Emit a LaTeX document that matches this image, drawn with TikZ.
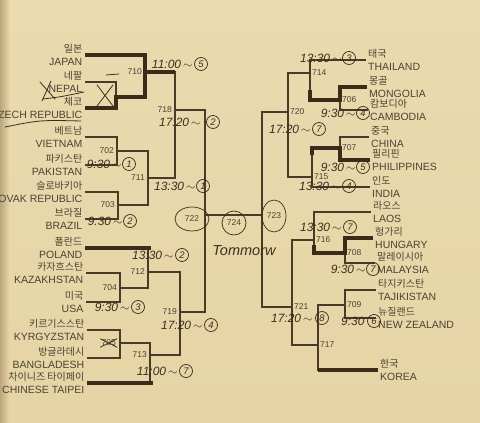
\documentclass[tikz,border=0pt]{standalone}
\usepackage{fontspec}
\setmainfont{Liberation Sans}
\newfontfamily\krfont{Noto Sans CJK KR}
\usepackage{tikz}
\usetikzlibrary{positioning, shapes.geometric}
\definecolor{paper}{HTML}{E6D4A5}
\definecolor{paperhi}{HTML}{EADAAE}
\definecolor{edge}{HTML}{BCA77C}
\definecolor{bink}{HTML}{4A3A28}
\definecolor{btext}{HTML}{4C4232}
\definecolor{pen}{HTML}{3B2F20}
\definecolor{mkcol}{HTML}{3A2B1A}
\newcommand{\hangul}[1]{{\krfont\fontsize{10}{13}\selectfont #1}}
\tikzstyle{teambox} = [text=btext, font=\fontsize{10.5}{13}\selectfont, inner sep=2.5pt]
\tikzstyle{teamL} = [teambox, anchor=east, align=right]
\tikzstyle{teamR} = [teambox, anchor=west, align=left]
\tikzstyle{bracket} = [draw=bink, line width=1.7pt, line join=miter]
\tikzstyle{markline} = [draw=mkcol, line width=4.5pt]
\tikzstyle{matchno} = [text=btext, font=\fontsize{8.5}{10}\selectfont, inner sep=1pt]
\tikzstyle{ring} = [draw=pen, line width=0.7pt]
\tikzstyle{hand} = [text=pen, font=\fontsize{12}{14}\selectfont\itshape, inner sep=0.5pt]
\tikzstyle{circno} = [circle, ring, text=pen, font=\fontsize{9.5}{10}\selectfont\itshape, inner sep=0pt, minimum size=13pt]
\tikzstyle{scribble} = [draw=pen, line width=0.8pt, line cap=round]
\begin{document}
\begin{tikzpicture}[x=1pt, y=-1pt]
    % paper
    \useasboundingbox (0,0) rectangle (480,423);
    \shade[top color=paperhi, bottom color=paper] (0,0) rectangle (480,423);
    \shade[left color=edge, right color=paper] (0,0) rectangle (9,423);

    % teams, left half
    \node[teamL] (jpn) at (85,55) {\hangul{일본}\\JAPAN};
    \node[teamL] (npl) at (85,82) {\hangul{네팔}\\NEPAL};
    \node[teamL] (cze) at (85,108) {\hangul{체코}\\CZECH REPUBLIC};
    \node[teamL] (vie) at (85,137) {\hangul{베트남}\\VIETNAM};
    \node[teamL] (pak) at (85,165) {\hangul{파키스탄}\\PAKISTAN};
    \node[teamL] (svk) at (85,192) {\hangul{슬로바키아}\\SLOVAK REPUBLIC};
    \node[teamL] (bra) at (85,219) {\hangul{브라질}\\BRAZIL};
    \node[teamL] (pol) at (85,248) {\hangul{폴란드}\\POLAND};
    \node[teamL] (kaz) at (86,273) {\hangul{카자흐스탄}\\KAZAKHSTAN};
    \node[teamL] (usa) at (86,302) {\hangul{미국}\\USA};
    \node[teamL] (kgz) at (87,330) {\hangul{키르기스스탄}\\KYRGYZSTAN};
    \node[teamL] (ban) at (87,358) {\hangul{방글라데시}\\BANGLADESH};
    \node[teamL] (tpe) at (87,383) {\hangul{차이니즈 타이페이}\\CHINESE TAIPEI};
    % teams, right half
    \node[teamR] (tha) at (365.5,60) {\hangul{태국}\\THAILAND};
    \node[teamR] (mgl) at (366.5,87) {\hangul{몽골}\\MONGOLIA};
    \node[teamR] (cam) at (367.5,110) {\hangul{캄보디아}\\CAMBODIA};
    \node[teamR] (chn) at (368.5,137) {\hangul{중국}\\CHINA};
    \node[teamR] (phi) at (369.5,160) {\hangul{필리핀}\\PHILIPPINES};
    \node[teamR] (ind) at (369.5,187) {\hangul{인도}\\INDIA};
    \node[teamR] (lao) at (370.5,212) {\hangul{라오스}\\LAOS};
    \node[teamR] (hun) at (372.5,238) {\hangul{헝가리}\\HUNGARY};
    \node[teamR] (mas) at (374.5,263) {\hangul{말레이시아}\\MALAYSIA};
    \node[teamR] (tjk) at (375.5,290) {\hangul{타지키스탄}\\TAJIKISTAN};
    \node[teamR] (nzl) at (375.5,318) {\hangul{뉴질랜드}\\NEW ZEALAND};
    \node[teamR] (kor) at (377.5,370) {\hangul{한국}\\KOREA};

    % match joints
    \coordinate (m701) at (116,97);
    \coordinate (m710) at (145,72);
    \coordinate (m702) at (117,151);
    \coordinate (m703) at (118,205);
    \coordinate (m711) at (148,178);
    \coordinate (m718) at (175,110);
    \coordinate (m704) at (120,288);
    \coordinate (m712) at (148,272);
    \coordinate (m705) at (120,343);
    \coordinate (m713) at (150,355);
    \coordinate (m719) at (180,312);
    \coordinate (m722) at (205,215);
    \coordinate (m723) at (262,215);
    \coordinate (m720) at (288,112);
    \coordinate (m714) at (310,73);
    \coordinate (m706) at (340,100);
    \coordinate (m707) at (340,148);
    \coordinate (m715) at (312,177);
    \coordinate (m721) at (292,307);
    \coordinate (m716) at (314,240);
    \coordinate (m708) at (345,253);
    \coordinate (m709) at (345,305);
    \coordinate (m717) at (318,345);

    % left bracket
    \draw[bracket] (npl.east) -| (m701) |- (cze.east);
    \draw[bracket] (jpn.east) -| (m710) |- (m701);
    \draw[bracket] (vie.east) -| (m702) |- (pak.east);
    \draw[bracket] (svk.east) -| (m703) |- (bra.east);
    \draw[bracket] (m702) -| (m711) |- (m703);
    \draw[bracket] (m710) -| (m718) |- (m711);
    \draw[bracket] (kaz.east) -| (m704) |- (usa.east);
    \draw[bracket] (pol.east) -| (m712) |- (m704);
    \draw[bracket] (kgz.east) -| (m705) |- (ban.east);
    \draw[bracket] (m705) -| (m713) |- (tpe.east);
    \draw[bracket] (m712) -| (m719) |- (m713);
    % final
    \draw[bracket] (m718) -| (m722) |- (m719);
    \draw[bracket] (m722) -- (m723);
    \draw[bracket] (m720) -| (m723) |- (m721);
    % right bracket
    \draw[bracket] (tha.west) -| (m714) |- (m706);
    \draw[bracket] (mgl.west) -| (m706) |- (cam.west);
    \draw[bracket] (chn.west) -| (m707) |- (phi.west);
    \draw[bracket] (m707) -| (m715) |- (ind.west);
    \draw[bracket] (m714) -| (m720) |- (m715);
    \draw[bracket] (lao.west) -| (m716) |- (m708);
    \draw[bracket] (hun.west) -| (m708) |- (mas.west);
    \draw[bracket] (tjk.west) -| (m709) |- (nzl.west);
    \draw[bracket] (m709) -| (m717) |- (kor.west);
    \draw[bracket] (m716) -| (m721) |- (m717);

    % marker strokes
    \draw[markline] (cze.east) -| (m701) -| (m710) |- (jpn.east);
    \draw[markline] (m710) -- (m710 -| m718);
    \draw[markline] (pol.east) -- ([xshift=3pt]pol.east -| m712);
    \draw[markline] (tpe.east) -- ([xshift=3pt]tpe.east -| m713);
    \draw[markline] (mgl.west) -| (m706) -- (m706 -| m714) -- ++(0,-10);
    \draw[markline] (phi.west) -| (m707) -- (m707 -| m715) -- ++(0,7);
    \draw[markline] (hun.west) -| (m708) -- (m708 -| m716) -- ++(0,-8);
    \draw[markline] (kor.west) -- (kor.west -| m717);

    % match numbers
    \node[matchno, left=2pt of m710] (n710) {710};
    \node[matchno, left=2pt of m702] (n702) {702};
    \node[matchno, left=2pt of m703] (n703) {703};
    \node[matchno, left=2pt of m711] (n711) {711};
    \node[matchno, left=2pt of m718] (n718) {718};
    \node[matchno, left=2pt of m704] (n704) {704};
    \node[matchno, left=2pt of m712] (n712) {712};
    \node[matchno, left=3pt of m705] (n705) {705};
    \node[matchno, left=2pt of m713] (n713) {713};
    \node[matchno, left=2pt of m719] (n719) {719};
    \node[matchno, right=1pt of m714] (n714) {714};
    \node[matchno, right=1pt of m706] (n706) {706};
    \node[matchno, right=1pt of m720] (n720) {720};
    \node[matchno, right=1pt of m707] (n707) {707};
    \node[matchno, right=1pt of m715] (n715) {715};
    \node[matchno, right=1pt of m716] (n716) {716};
    \node[matchno, right=1pt of m708] (n708) {708};
    \node[matchno, right=1pt of m721] (n721) {721};
    \node[matchno, right=1pt of m709] (n709) {709};
    \node[matchno, right=1pt of m717] (n717) {717};
    \node[matchno, ellipse, ring, minimum width=34pt, minimum height=24pt] (n722) at (192,219) {722};
    \node[matchno, ellipse, ring, minimum width=24pt, minimum height=32pt] (n723) at (274,216) {723};
    \node[matchno, circle, ring, minimum size=24pt] (n724) at (234,223) {724};

    % handwritten times
    \node[circno] (c710) at (201,64) {5};
    \node[hand, left=1pt of c710] (h710) {11:00\,$\sim$};
    \node[circno] (c718) at (213,122) {2};
    \node[hand, left=5pt of c718] (h718) {17:20\,$\sim$};
    \node[circno] (c702) at (129,164) {1};
    \node[hand, left=0pt of c702] (h702) {9:30\,$\sim$};
    \node[circno] (c711) at (203,186) {1};
    \node[hand, left=0pt of c711] (h711) {13:30\,$\sim$};
    \node[circno] (c703) at (130,221) {2};
    \node[hand, left=0pt of c703] (h703) {9:30\,$\sim$};
    \node[circno] (c712) at (182,255) {2};
    \node[hand, left=1pt of c712] (h712) {13:30\,$\sim$};
    \node[circno] (c704) at (138,307) {3};
    \node[hand, left=1pt of c704] (h704) {9:30\,$\sim$};
    \node[circno] (c719) at (211,325) {4};
    \node[hand, left=1pt of c719] (h719) {17:20\,$\sim$};
    \node[circno] (c713) at (186,371) {7};
    \node[hand, left=1pt of c713] (h713) {11:00\,$\sim$};
    \node[circno] (c714) at (349,58) {3};
    \node[hand, left=0pt of c714] (h714) {13:30\,$\sim$};
    \node[circno] (c706) at (363,113) {4};
    \node[hand, left=0pt of c706] (h706) {9:30\,$\sim$};
    \node[circno] (c720) at (319,129) {7};
    \node[hand, left=1pt of c720] (h720) {17:20\,$\sim$};
    \node[circno] (c707) at (363,167) {5};
    \node[hand, left=0pt of c707] (h707) {9:30\,$\sim$};
    \node[circno] (c715) at (349,186) {4};
    \node[hand, left=1pt of c715] (h715) {13:30\,$\sim$};
    \node[circno] (c716) at (350,227) {7};
    \node[hand, left=1pt of c716] (h716) {13:30\,$\sim$};
    \node[circno] (c708) at (373,269) {7};
    \node[hand, left=0pt of c708] (h708) {9:30\,$\sim$};
    \node[circno] (c721) at (322,318) {8};
    \node[hand, left=2pt of c721] (h721) {17:20\,$\sim$};
    \node[circno] (c709) at (374,321) {6};
    \node[hand, left=2pt of c709] (h709) {9:30};
    \node[hand, font=\fontsize{14.5}{16}\selectfont\itshape] (tmrw) at (244,251) {Tommorw};

    % scribbles
    \draw[scribble] (40,82) -- (55,99);
    \draw[scribble] (51,81) -- (42,101);
    \draw[scribble] (43,99) .. controls (60,97) .. (84,92);
    \draw[scribble] (5,127) .. controls (40,120) .. (81,121);
    \draw[scribble] (97,85) -- (113,106);
    \draw[scribble] (113,85) -- (97,106);
    \draw[scribble] (106,75) -- (119,74);
    \draw[scribble] (n705.south west) -- (n705.north east);
    \draw[scribble] (n705.north west) -- (n705.south east);
\end{tikzpicture}
\end{document}
